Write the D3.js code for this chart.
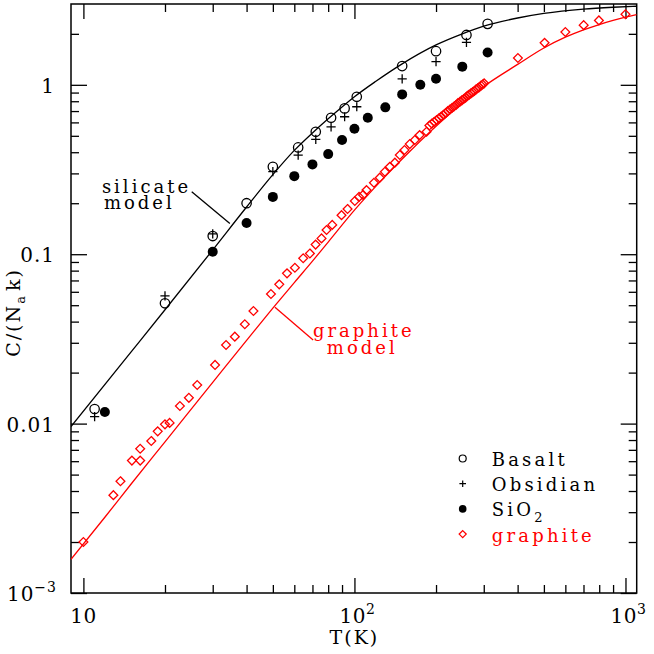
<!DOCTYPE html>
<html>
<head>
<meta charset="utf-8">
<script src="https://cdn.jsdelivr.net/npm/d3@7"></script>
<style>
  body { margin: 0; background: #fff; }
  svg text { font-family: 'DejaVu Serif', serif; }
</style>
</head>
<body>
<div id="chart"></div>
<script>
// measured heat capacities, C/(N_a k) against T in K
const basaltT = [11, 20, 30, 40, 50, 62, 72, 82, 92, 102, 150, 200, 259, 310];
const basaltC = [0.0122, 0.0513, 0.128, 0.2, 0.328, 0.427, 0.528, 0.639, 0.726, 0.85, 1.29, 1.58, 1.97, 2.29];

const obsidianT = [11, 20, 30, 50, 62, 72, 82, 92, 102, 150, 200, 259];
const obsidianC = [0.011, 0.0567, 0.132, 0.307, 0.385, 0.476, 0.565, 0.648, 0.742, 1.085, 1.37, 1.78];

const sio2T = [12, 30, 40, 50, 60, 70, 80, 90, 100, 112, 130, 150, 175, 200, 250, 310];
const sio2C = [0.0117, 0.1035, 0.153, 0.218, 0.289, 0.339, 0.39, 0.472, 0.55, 0.639, 0.736, 0.878, 1.0, 1.085, 1.28, 1.55];

const graphiteT = [10, 12.9, 13.7, 15.1, 16.2, 16.2, 17.8, 18.8, 20, 20.8, 22.7, 24.5, 26.3, 30.6, 33.6, 36.2, 39.4,
  42.4, 49.2, 52.8, 56.4, 60.3, 64.7, 68.5, 71.9, 75.6, 78.9, 82.8, 89.6, 94.3, 100.3, 104, 107.6, 110.8,
  118, 124, 129.5, 135, 141, 147, 153, 160, 167, 174, 184.5,
  189, 193, 197, 201, 205, 209, 213, 217, 221, 225, 229, 233, 237, 241, 245, 249, 253, 257, 261, 265,
  269, 273, 277, 281, 285, 289, 293, 297, 301,
  401, 503, 600, 701, 798, 1000];
const graphiteC = [0.002, 0.00378, 0.00457, 0.00605, 0.00605, 0.0071, 0.0079, 0.009, 0.0099, 0.0101, 0.0127, 0.0142, 0.0169, 0.0222, 0.0291, 0.0326, 0.0386,
  0.0462, 0.0582, 0.0664, 0.0771, 0.0832, 0.0946, 0.101, 0.114, 0.124, 0.139, 0.149, 0.17, 0.185, 0.206, 0.218, 0.224, 0.239,
  0.264, 0.283, 0.307, 0.328, 0.347, 0.385, 0.412, 0.447, 0.472, 0.505, 0.528,
  0.575, 0.59, 0.605, 0.62, 0.635, 0.65, 0.665, 0.68, 0.70, 0.715, 0.73, 0.745, 0.76, 0.78, 0.795, 0.81, 0.825, 0.84, 0.86, 0.875,
  0.89, 0.905, 0.92, 0.94, 0.955, 0.97, 0.99, 1.005, 1.02,
  1.44, 1.77, 2.05, 2.25, 2.4, 2.61];

// model curves
const silicateModelT = [9, 15, 20, 30, 40, 50, 60, 70, 80, 90, 100, 120, 150, 200, 250, 300, 400, 500, 700, 900, 1100];
const silicateModelC = [0.0096, 0.0265, 0.047, 0.106, 0.19, 0.295, 0.41, 0.52, 0.63, 0.74, 0.85, 1.05, 1.33, 1.72, 2.0, 2.22, 2.48, 2.64, 2.8, 2.87, 2.91];

const graphiteModelT = [9, 12, 15, 20, 30, 40, 50, 60, 70, 80, 100, 125, 150, 200, 250, 300, 400, 500, 600, 700, 800, 900, 1000, 1100];
const graphiteModelC = [0.00158, 0.0028, 0.0044, 0.0078, 0.0175, 0.031, 0.048, 0.068, 0.091, 0.118, 0.182, 0.27, 0.365, 0.57, 0.779, 0.978, 1.32, 1.65, 1.91, 2.11, 2.27, 2.4, 2.51, 2.6];

const xMajor = [10, 100, 1000];
const yMajor = [0.001, 0.01, 0.1, 1];
const xTickLabels = [['10', ''], ['10', '2'], ['10', '3']];
const yTickLabels = [['10', '\u22123'], ['0.01', ''], ['0.1', ''], ['1', '']];

const legendNames = ['Basalt', 'Obsidian', 'SiO', 'graphite'];

const zip = (a, b) => a.map((v, i) => [v, b[i]]);

class HeatCapacityChart {
  options = {
    width: 654,
    height: 654,
    margin: { top: 4, right: 17.3, bottom: 61, left: 71 },
    elem: '',
  }

  constructor({ elem }) {
    this.options.elem = elem;
    this.createChart();
  }

  createChart() {
    this.createSvg();
    this.createScales();
    this.createTicks();
    this.createCurves();
    this.createPoints();
    this.createTickLabels();
    this.createAnnotations();
    this.createLegend();
  }

  get margin() {
    return this.options.margin;
  }

  createSvg() {
    const { width, height } = this.options;
    this.svg = d3.select(this.options.elem)
      .append('svg')
      .attr('width', width)
      .attr('height', height);

    this.svg.append('clipPath').attr('id', 'frame')
      .append('rect')
      .attr('x', this.margin.left)
      .attr('y', this.margin.top)
      .attr('width', width - this.margin.left - this.margin.right)
      .attr('height', height - this.margin.top - this.margin.bottom);
  }

  createScales() {
    const { width, height } = this.options;
    this.x = d3.scaleLog().domain([9, 1100]).range([this.margin.left, width - this.margin.right]);
    this.y = d3.scaleLog().domain([1e-3, 3]).range([height - this.margin.bottom, this.margin.top]);
  }

  createTicks() {
    const [x0, x1] = this.x.range();
    const [y0, y1] = this.y.range();
    const xMinor = [10, 100].flatMap((d) => d3.range(2, 10).map((k) => k * d));
    const yMinor = [0.001, 0.01, 0.1].flatMap((d) => d3.range(2, 10).map((k) => +(k * d).toPrecision(2))).concat([2]);

    const axes = this.svg.append('g').attr('class', 'axes');
    const add = (axis, transform) => {
      const g = axes.append('g').attr('transform', transform).call(axis);
      g.select('.domain').remove();
      g.selectAll('line').attr('stroke', '#000').attr('stroke-width', 1.3);
    };

    [[xMajor, 15], [xMinor, 8]].forEach(([vals, len]) => {
      add(d3.axisBottom(this.x).tickValues(vals).tickSize(-len).tickFormat(''), `translate(0,${y0})`);
      add(d3.axisTop(this.x).tickValues(vals).tickSize(-len).tickFormat(''), `translate(0,${y1})`);
    });
    [[yMajor, 16], [yMinor, 8]].forEach(([vals, len]) => {
      add(d3.axisLeft(this.y).tickValues(vals).tickSize(-len).tickFormat(''), `translate(${x0},0)`);
      add(d3.axisRight(this.y).tickValues(vals).tickSize(-len).tickFormat(''), `translate(${x1},0)`);
    });

    axes.append('rect')
      .attr('x', x0)
      .attr('y', y1)
      .attr('width', x1 - x0)
      .attr('height', y0 - y1)
      .attr('fill', 'none')
      .attr('stroke', '#000')
      .attr('stroke-width', 1.5);
  }

  createCurves() {
    const line = d3.line()
      .x((d) => this.x(d[0]))
      .y((d) => this.y(d[1]))
      .curve(d3.curveMonotoneX);

    const g = this.svg.append('g').attr('clip-path', 'url(#frame)');
    g.append('path')
      .attr('d', line(zip(silicateModelT, silicateModelC)))
      .attr('fill', 'none')
      .attr('stroke', '#000')
      .attr('stroke-width', 1.3);
    g.append('path')
      .attr('d', line(zip(graphiteModelT, graphiteModelC)))
      .attr('fill', 'none')
      .attr('stroke', '#ff0000')
      .attr('stroke-width', 1.3);
  }

  diamond(s) {
    return `M0,${-s}L${s},0L0,${s}L${-s},0Z`;
  }

  plus(s) {
    return `M${-s},0H${s}M0,${-s}V${s}`;
  }

  createPoints() {
    const g = this.svg.append('g').attr('clip-path', 'url(#frame)');
    const at = (d) => `translate(${this.x(d[0])},${this.y(d[1])})`;

    g.selectAll('.basalt')
      .data(zip(basaltT, basaltC))
      .enter()
      .append('circle')
      .attr('class', 'basalt')
      .attr('cx', (d) => this.x(d[0]))
      .attr('cy', (d) => this.y(d[1]))
      .attr('r', 4.7)
      .attr('fill', 'none')
      .attr('stroke', '#000')
      .attr('stroke-width', 1.3);

    g.selectAll('.obsidian')
      .data(zip(obsidianT, obsidianC))
      .enter()
      .append('path')
      .attr('class', 'obsidian')
      .attr('transform', at)
      .attr('d', this.plus(4.6))
      .attr('stroke', '#000')
      .attr('stroke-width', 1.3);

    g.selectAll('.sio2')
      .data(zip(sio2T, sio2C))
      .enter()
      .append('circle')
      .attr('class', 'sio2')
      .attr('cx', (d) => this.x(d[0]))
      .attr('cy', (d) => this.y(d[1]))
      .attr('r', 5)
      .attr('fill', '#000');

    g.selectAll('.graphite')
      .data(zip(graphiteT, graphiteC))
      .enter()
      .append('path')
      .attr('class', 'graphite')
      .attr('transform', at)
      .attr('d', this.diamond(4.4))
      .attr('fill', 'none')
      .attr('stroke', '#ff0000')
      .attr('stroke-width', 1.3);
  }

  // number with an optional superscript
  powerText(sel, [base, exp]) {
    sel.append('tspan').text(base);
    if (exp) {
      sel.append('tspan').attr('dy', -9).attr('font-size', 14).text(exp);
    }
  }

  createTickLabels() {
    const [y0] = this.y.range();
    const [x0] = this.x.range();
    const g = this.svg.append('g').attr('font-size', 20).attr('fill', '#000');

    xMajor.forEach((v, i) => {
      g.append('text')
        .attr('x', this.x(v) + (xTickLabels[i][1] ? 3 : 0))
        .attr('y', y0 + 30)
        .attr('text-anchor', 'middle')
        .attr('letter-spacing', 0.5)
        .call((s) => this.powerText(s, xTickLabels[i]));
    });

    yMajor.forEach((v, i) => {
      g.append('text')
        .attr('x', x0 - 16 + (yTickLabels[i][1] ? 2 : 0))
        .attr('y', this.y(v) + 8)
        .attr('text-anchor', 'end')
        .attr('letter-spacing', 1)
        .call((s) => this.powerText(s, yTickLabels[i]));
    });

    g.append('text')
      .attr('x', this.x(100))
      .attr('y', y0 + 51)
      .attr('text-anchor', 'middle')
      .attr('font-size', 19)
      .attr('letter-spacing', 2)
      .text('T(K)');

    const yl = g.append('text')
      .attr('transform', `translate(20,${(this.y.range()[0] + this.y.range()[1]) / 2 + 14}) rotate(-90)`)
      .attr('text-anchor', 'middle')
      .attr('font-size', 19)
      .attr('letter-spacing', 2);
    yl.append('tspan').text('C/(N');
    yl.append('tspan').attr('dy', 5).attr('font-size', 13).text('a');
    yl.append('tspan').attr('dy', -5).attr('dx', 3).text('k)');
  }

  createAnnotations() {
    const notes = [
      { color: '#000', lines: [['silicate', 11.7, 0.2296], ['model', 11.9, 0.1845]], pointer: [[25.1, 0.2338], [34.7, 0.152]] },
      { color: '#ff0000', lines: [['graphite', 70.3, 0.0325], ['model', 79.1, 0.0258]], pointer: [[50.9, 0.0486], [70.4, 0.0312]] },
    ];
    const g = this.svg.append('g').attr('font-size', 18).attr('letter-spacing', 3);
    notes.forEach(({ color, lines, pointer }) => {
      lines.forEach(([txt, t, c]) => {
        g.append('text')
          .attr('x', this.x(t))
          .attr('y', this.y(c))
          .attr('fill', color)
          .text(txt);
      });
      g.append('line')
        .attr('x1', this.x(pointer[0][0]))
        .attr('y1', this.y(pointer[0][1]))
        .attr('x2', this.x(pointer[1][0]))
        .attr('y2', this.y(pointer[1][1]))
        .attr('stroke', color)
        .attr('stroke-width', 1.3);
    });
  }

  createLegend() {
    const g = this.svg.append('g').attr('transform', 'translate(462.7,458.5)');
    const rowH = 25.2;
    const colors = ['#000', '#000', '#000', '#ff0000'];

    legendNames.forEach((name, i) => {
      const row = g.append('g').attr('transform', `translate(0,${i * rowH})`);
      if (i === 0) {
        row.append('circle').attr('r', 3.5).attr('fill', 'none').attr('stroke', '#000').attr('stroke-width', 1.2);
      } else if (i === 1) {
        row.append('path').attr('d', this.plus(3.3)).attr('stroke', '#000').attr('stroke-width', 1.2);
      } else if (i === 2) {
        row.append('circle').attr('r', 3.8).attr('fill', '#000');
      } else {
        row.append('path').attr('d', this.diamond(3.5)).attr('fill', 'none').attr('stroke', '#ff0000').attr('stroke-width', 1.3);
      }
      const t = row.append('text')
        .attr('x', 29)
        .attr('y', 7.5)
        .attr('font-size', 18)
        .attr('letter-spacing', 3.2)
        .attr('fill', colors[i])
        .text(name);
      if (i === 2) {
        t.append('tspan').attr('dy', 6).attr('font-size', 13).text('2');
      }
    });
  }
}

new HeatCapacityChart({ elem: '#chart' });
</script>
</body>
</html>
